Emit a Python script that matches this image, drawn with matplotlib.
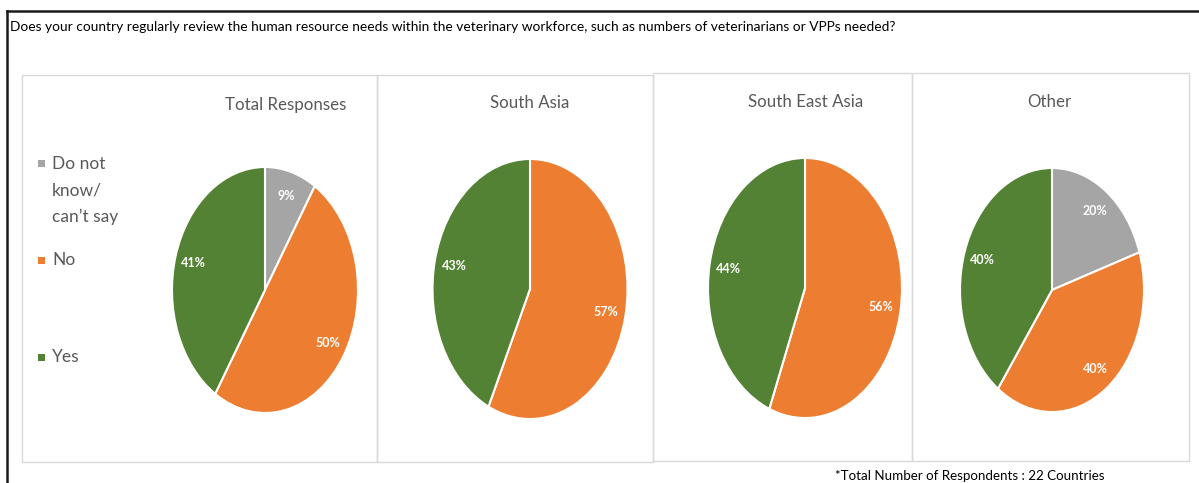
import matplotlib.pyplot as plt
from matplotlib.patches import Rectangle
from matplotlib.lines import Line2D

# Survey answers (percent of respondents)
answers = ["Do not\nknow/\ncan\u2019t say", "No", "Yes"]
colors = ["#A5A5A5", "#ED7D31", "#548235"]
regions = ["Total Responses", "South Asia", "South East Asia", "Other"]
total_responses = [9, 50, 41]
south_asia = [0, 57, 43]
south_east_asia = [0, 56, 44]
other = [20, 40, 40]
region_values = [total_responses, south_asia, south_east_asia, other]

question = ("Does your country regularly review the human resource needs within the veterinary "
            "workforce, such as numbers of veterinarians or VPPs needed?")
footnote = "*Total Number of Respondents : 22 Countries"

W, H = 1199, 483
FONT = ["Lato", "DejaVu Sans"]
GREY_TEXT = "#595959"

fig = plt.figure(figsize=(W / 100, H / 100), dpi=100)
fig.patch.set_facecolor("white")


def fx(x):
    return x / W


def fy(y):
    return 1 - y / H


# outer black frame (top and left edges visible)
fig.add_artist(Line2D([fx(7), fx(1199)], [fy(11), fy(11)], color="#1a1a1a", lw=1.8))
fig.add_artist(Line2D([fx(7), fx(7)], [fy(11), fy(483)], color="#1a1a1a", lw=1.8))

fig.text(fx(10), fy(27), question, fontsize=9.9, family=FONT, color="black", va="center", ha="left")

# panel boxes: left, top, right, bottom in pixels
panels = [(22, 75, 377, 462), (377, 75, 653, 462), (653, 73, 912, 461), (912, 73, 1189, 461)]
for l, t, r, b in panels:
    fig.add_artist(Rectangle((fx(l), fy(b)), fx(r - l), (b - t) / H,
                             transform=fig.transFigure, fill=False,
                             edgecolor="#D9D9D9", lw=1.0))

# pie boxes: centre x, centre y, half width, half height in pixels
pie_boxes = [(265, 290, 93, 123), (530, 289, 97.5, 130), (805, 288, 97, 130), (1052, 290, 92, 122)]
title_pos = [(286, 105), (530, 103), (806, 102), (1049, 102)]

for vals, (cx, cy, rx, ry), name, (tx, ty) in zip(region_values, pie_boxes, regions, title_pos):
    ax = fig.add_axes([fx(cx - rx), fy(cy + ry), 2 * rx / W, 2 * ry / H])
    keep = [i for i, v in enumerate(vals) if v > 0]
    wedges, _, autotexts = ax.pie(
        [vals[i] for i in keep],
        colors=[colors[i] for i in keep],
        startangle=90,
        counterclock=False,
        radius=1,
        autopct=lambda p: f"{p:.0f}%",
        pctdistance=0.8,
        wedgeprops=dict(edgecolor="white", linewidth=1.5),
        textprops=dict(color="white", fontsize=9, fontweight="bold", family=FONT),
    )
    ax.set_aspect("auto")
    ax.set_xlim(-1, 1)
    ax.set_ylim(-1, 1)
    ax.axis("off")
    fig.text(fx(tx), fy(ty), name, fontsize=12.2, family=FONT, color=GREY_TEXT, ha="center", va="center")

# legend
legend_y = [163, 260, 357]
for lab, col, ly in zip(answers, colors, legend_y):
    fig.add_artist(Rectangle((fx(38), fy(ly + 4)), 7 / W, 7 / H, transform=fig.transFigure,
                             facecolor=col, edgecolor="none"))
    fig.text(fx(52), fy(ly - 7 if "\n" in lab else ly), lab, fontsize=12.5, family=FONT,
             color=GREY_TEXT, ha="left", va="top" if "\n" in lab else "center",
             linespacing=1.8)

fig.text(fx(970), fy(476), footnote, fontsize=9.6, family=FONT, color="black", ha="center", va="center")

fig.savefig("out.png", dpi=100)
